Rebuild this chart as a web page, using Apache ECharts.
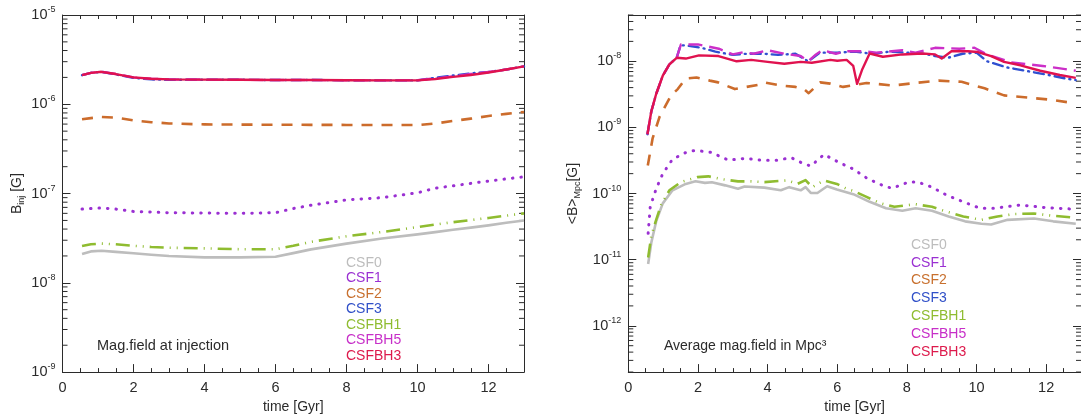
<!DOCTYPE html>
<html>
<head>
<meta charset="utf-8">
<script src="https://cdn.jsdelivr.net/npm/echarts@6.0.0/dist/echarts.min.js"></script>
<style>
  html, body { margin: 0; padding: 0; background: #fff; }
  #chart { width: 1081px; height: 419px; }
</style>
</head>
<body>
<div id="chart"></div>
<script>
// === Data: left panel (field at injection), shared time grid =================
const tInj = [0.55, 0.8, 1.1, 1.5, 2, 2.5, 3, 4, 5, 6, 6.5, 7, 8, 9, 10, 10.5, 11, 11.5, 12, 12.5, 13];
const injCSF0   = [2.1e-8, 2.25e-8, 2.29e-8, 2.22e-8, 2.14e-8, 2.06e-8, 2.0e-8, 1.93e-8, 1.93e-8, 1.96e-8, 2.15e-8, 2.37e-8, 2.75e-8, 3.13e-8, 3.49e-8, 3.7e-8, 3.93e-8, 4.15e-8, 4.4e-8, 4.7e-8, 4.99e-8];
const injCSF1   = [6.7e-8, 6.8e-8, 6.9e-8, 6.7e-8, 6.3e-8, 6.2e-8, 6.1e-8, 6.05e-8, 6.0e-8, 6.1e-8, 6.8e-8, 7.4e-8, 8.5e-8, 9.0e-8, 1.02e-7, 1.15e-7, 1.22e-7, 1.3e-7, 1.38e-7, 1.46e-7, 1.54e-7];
const injCSF2   = [6.8e-7, 7.0e-7, 7.2e-7, 7.1e-7, 6.6e-7, 6.3e-7, 6.1e-7, 5.95e-7, 5.92e-7, 5.9e-7, 5.9e-7, 5.88e-7, 5.87e-7, 5.85e-7, 5.85e-7, 6.1e-7, 6.5e-7, 6.9e-7, 7.4e-7, 7.8e-7, 8.2e-7];
const injCSF3   = [2.12e-6, 2.25e-6, 2.31e-6, 2.16e-6, 1.98e-6, 1.9e-6, 1.88e-6, 1.88e-6, 1.88e-6, 1.87e-6, 1.87e-6, 1.87e-6, 1.86e-6, 1.85e-6, 1.85e-6, 1.98e-6, 2.1e-6, 2.22e-6, 2.3e-6, 2.45e-6, 2.66e-6];
const injCSFBH1 = [2.58e-8, 2.7e-8, 2.75e-8, 2.7e-8, 2.6e-8, 2.52e-8, 2.47e-8, 2.43e-8, 2.38e-8, 2.38e-8, 2.6e-8, 2.88e-8, 3.32e-8, 3.71e-8, 4.21e-8, 4.5e-8, 4.78e-8, 5.05e-8, 5.33e-8, 5.65e-8, 6.0e-8];
const injCSFBH5 = [2.12e-6, 2.25e-6, 2.31e-6, 2.18e-6, 2.0e-6, 1.93e-6, 1.9e-6, 1.89e-6, 1.88e-6, 1.87e-6, 1.87e-6, 1.87e-6, 1.86e-6, 1.85e-6, 1.86e-6, 1.95e-6, 2.05e-6, 2.18e-6, 2.3e-6, 2.45e-6, 2.66e-6];
const injCSFBH3 = [2.12e-6, 2.25e-6, 2.31e-6, 2.18e-6, 2.0e-6, 1.93e-6, 1.9e-6, 1.89e-6, 1.88e-6, 1.87e-6, 1.87e-6, 1.87e-6, 1.86e-6, 1.85e-6, 1.85e-6, 1.92e-6, 2.03e-6, 2.13e-6, 2.27e-6, 2.45e-6, 2.66e-6];

// === Data: right panel (average field in Mpc^3), [time, B] pairs ============
const mpcCSF0 = [[0.57,8.6e-12],[0.66,1.8e-11],[0.8,3.8e-11],[0.99,7.1e-11],[1.27,1.12e-10],[1.65,1.4e-10],[1.93,1.53e-10],[2.2,1.45e-10],[2.4,1.48e-10],[2.78,1.33e-10],[3.15,1.18e-10],[3.34,1.28e-10],[3.91,1.23e-10],[4.38,1.12e-10],[4.62,1.25e-10],[4.95,1.12e-10],[5.09,1.25e-10],[5.24,1.02e-10],[5.43,1.02e-10],[5.71,1.29e-10],[5.99,1.15e-10],[6.46,9.8e-11],[6.93,7.5e-11],[7.4,6.0e-11],[7.87,5.5e-11],[8.25,6.0e-11],[8.72,5.5e-11],[9.2,4.5e-11],[9.67,3.8e-11],[10.14,3.5e-11],[10.42,3.4e-11],[10.89,4.0e-11],[11.65,4.2e-11],[12.2,3.8e-11],[12.85,3.5e-11]];
const mpcCSF1 = [[0.57,2.5e-11],[0.63,6.3e-11],[0.8,1.18e-10],[0.99,2.0e-10],[1.27,3.3e-10],[1.7,4.3e-10],[1.93,4.5e-10],[2.37,4.2e-10],[2.88,3.2e-10],[3.35,3.4e-10],[3.82,3.2e-10],[4.3,3.2e-10],[4.67,3.5e-10],[4.96,2.95e-10],[5.24,2.6e-10],[5.62,3.9e-10],[6.05,2.95e-10],[6.46,2.35e-10],[6.88,1.67e-10],[7.3,1.33e-10],[7.57,1.2e-10],[8.06,1.5e-10],[8.3,1.5e-10],[8.72,1.25e-10],[9.15,9.4e-11],[9.62,7.5e-11],[10.1,6.0e-11],[10.57,6.0e-11],[10.8,6.3e-11],[11.27,6.7e-11],[12.02,6.1e-11],[12.85,5.8e-11]];
const mpcCSF2 = [[0.56,2.66e-10],[0.7,6.9e-10],[0.9,1.46e-9],[1.23,3.05e-9],[1.42,3.8e-9],[1.65,5.5e-9],[1.96,5.7e-9],[2.34,5.1e-9],[2.58,4.8e-9],[3.06,3.8e-9],[3.4,4.1e-9],[3.72,4.4e-9],[3.91,4.8e-9],[4.38,4.3e-9],[4.8,4.1e-9],[5.04,3.8e-9],[5.18,3.3e-9],[5.51,4.8e-9],[5.8,4.6e-9],[6.17,4.1e-9],[6.84,4.7e-9],[7.6,4.3e-9],[8.25,4.7e-9],[8.91,5.1e-9],[9.57,4.9e-9],[10.23,3.9e-9],[10.79,3.05e-9],[11.55,2.8e-9],[12.2,2.6e-9],[12.85,2.3e-9]];
const mpcCSF3 = [[0.55,7.9e-10],[0.66,1.74e-9],[0.8,3.2e-9],[0.99,6.05e-9],[1.18,9.0e-9],[1.39,1.13e-8],[1.5,1.75e-8],[1.67,1.73e-8],[2.1,1.6e-8],[2.5,1.4e-8],[3.0,1.25e-8],[3.4,1.3e-8],[3.9,1.3e-8],[4.3,1.25e-8],[4.8,1.3e-8],[5.17,1.0e-8],[5.5,1.35e-8],[6.0,1.35e-8],[6.5,1.4e-8],[7.0,1.3e-8],[7.5,1.4e-8],[8.0,1.35e-8],[8.5,1.3e-8],[8.81,1.2e-8],[9.18,1.13e-8],[9.6,1.3e-8],[10.0,1.35e-8],[10.3,1.0e-8],[10.89,8.05e-9],[11.4,7.2e-9],[12.0,6.3e-9],[12.55,5.5e-9],[12.85,5.2e-9]];
const mpcCSFBH1 = [[0.57,1.08e-11],[0.66,2.26e-11],[0.8,4.0e-11],[0.94,6.7e-11],[1.18,1.12e-10],[1.51,1.49e-10],[1.98,1.77e-10],[2.3,1.82e-10],[2.68,1.65e-10],[3.15,1.53e-10],[3.53,1.53e-10],[3.91,1.49e-10],[4.57,1.58e-10],[4.86,1.4e-10],[5.09,1.6e-10],[5.28,1.25e-10],[5.62,1.58e-10],[5.99,1.4e-10],[6.27,1.18e-10],[6.46,1.1e-10],[6.84,8.9e-11],[7.22,7.2e-11],[7.64,6.3e-11],[7.93,6.6e-11],[8.25,6.9e-11],[8.72,6.3e-11],[9.15,5.3e-11],[9.62,4.5e-11],[10.14,4.0e-11],[10.6,4.5e-11],[11.08,4.9e-11],[11.65,5.0e-11],[12.12,4.65e-11],[12.85,4.3e-11]];
const mpcCSFBH5 = [[0.55,7.9e-10],[0.66,1.74e-9],[0.8,3.2e-9],[0.99,6.05e-9],[1.18,9.0e-9],[1.39,1.13e-8],[1.51,1.79e-8],[2.0,1.8e-8],[2.6,1.55e-8],[3.0,1.27e-8],[3.3,1.37e-8],[3.6,1.3e-8],[4.0,1.47e-8],[4.48,1.3e-8],[4.95,1.2e-8],[5.17,1.0e-8],[5.39,1.27e-8],[5.57,1.47e-8],[5.96,1.3e-8],[6.27,1.42e-8],[6.74,1.42e-8],[7.12,1.35e-8],[7.87,1.47e-8],[8.25,1.35e-8],[8.81,1.6e-8],[9.5,1.55e-8],[9.94,1.6e-8],[10.3,1.27e-8],[11.0,9.6e-9],[11.9,8.5e-9],[12.4,7.8e-9],[12.85,7.2e-9]];
const mpcCSFBH3 = [[0.55,7.9e-10],[0.66,1.74e-9],[0.8,3.2e-9],[0.99,6.05e-9],[1.18,9.0e-9],[1.39,1.13e-8],[1.65,1.1e-8],[2.03,1.23e-8],[2.59,1.2e-8],[3.11,1.0e-8],[3.53,1.05e-8],[4.0,9.8e-9],[4.48,9.2e-9],[4.95,9.8e-9],[5.27,9.5e-9],[5.8,1.05e-8],[6.0,1.02e-8],[6.27,1.05e-8],[6.46,8.5e-9],[6.57,4.55e-9],[6.72,7.6e-9],[6.93,1.31e-8],[7.31,1.17e-8],[7.87,1.27e-8],[8.44,1.31e-8],[8.81,1.27e-8],[9.0,1.1e-8],[9.28,1.42e-8],[9.75,1.42e-8],[10.04,1.38e-8],[10.42,1.2e-8],[10.79,9.8e-9],[11.26,8.7e-9],[11.83,7.2e-9],[12.39,6.2e-9],[12.85,5.6e-9]];

const NAMES = ['CSF0', 'CSF1', 'CSF2', 'CSF3', 'CSFBH1', 'CSFBH5', 'CSFBH3'];
const injByName = { CSF0: injCSF0, CSF1: injCSF1, CSF2: injCSF2, CSF3: injCSF3, CSFBH1: injCSFBH1, CSFBH5: injCSFBH5, CSFBH3: injCSFBH3 };
const mpcByName = { CSF0: mpcCSF0, CSF1: mpcCSF1, CSF2: mpcCSF2, CSF3: mpcCSF3, CSFBH1: mpcCSFBH1, CSFBH5: mpcCSFBH5, CSFBH3: mpcCSFBH3 };

// log10 ranges of the two y axes
const injRange = [-9, -5];
const mpcRange = [-12.7, -7.3];

// === Styles ==================================================================
const FONT = '"Liberation Sans", Arial, Helvetica, sans-serif';
const ink = '#2b2b2b';
const STYLE = {
  CSF0:   { color: '#bdbdbd', width: 2.6, type: 'solid' },
  CSF1:   { color: '#9a30d2', width: 3, type: [0.5, 8], cap: 'round' },
  CSF2:   { color: '#cc6c2c', width: 2.6, type: [11, 9] },
  CSF3:   { color: '#2f4fd0', width: 2.4, type: [10, 5, 1, 5], cap: 'round' },
  CSFBH1: { color: '#8fbc30', width: 2.6, type: [14, 6, 1, 6, 1, 6], cap: 'butt' },
  CSFBH5: { color: '#cc2fc8', width: 2.4, type: [14, 7] },
  CSFBH3: { color: '#e0124f', width: 2.4, type: 'solid' }
};
const LEGEND_COLOR = { CSF0: '#bdbdbd', CSF1: '#9a30d2', CSF2: '#c8702e', CSF3: '#3050c8', CSFBH1: '#8fbc30', CSFBH5: '#c72fc8', CSFBH3: '#dd1a4c' };

const supLabel = {
  color: ink, fontFamily: FONT, margin: 7,
  rich: {
    b: { fontSize: 14.5, lineHeight: 20, fontFamily: FONT, color: ink },
    s: { fontSize: 9, lineHeight: 9, verticalAlign: 'top', fontFamily: FONT, color: ink }
  }
};
const isInt = v => Math.abs(v - Math.round(v)) < 1e-6;

// === Axes ====================================================================
function xAxes(grid) {
  const base = { type: 'value', gridIndex: grid, min: 0, max: 13, axisLine: { show: false, onZero: false }, splitLine: { show: false }, axisLabel: { show: false } };
  return [
    { ...base, position: 'bottom', interval: 2,
      axisLine: { show: true, onZero: false, lineStyle: { color: ink, width: 1 } },
      axisTick: { inside: true, length: 8, lineStyle: { color: ink } },
      axisLabel: { show: true, showMaxLabel: false, color: ink, fontSize: 14.5, fontFamily: FONT, margin: 8 },
      name: 'time [Gyr]', nameLocation: 'middle', nameGap: 23,
      nameTextStyle: { color: ink, fontSize: 14, fontFamily: FONT } },
    { ...base, position: 'bottom', interval: 0.5, axisTick: { inside: true, length: 4, lineStyle: { color: ink } } },
    { ...base, position: 'top', interval: 2,
      axisLine: { show: true, onZero: false, lineStyle: { color: ink, width: 1 } },
      axisTick: { inside: true, length: 8, lineStyle: { color: ink } } },
    { ...base, position: 'top', interval: 0.5, axisTick: { inside: true, length: 4, lineStyle: { color: ink } } }
  ];
}

function yAxes(grid, range, name, nameGap, opts) {
  const common = { type: 'value', gridIndex: grid, min: range[0], max: range[1], splitLine: { show: false },
    axisLine: { show: true, onZero: false, lineStyle: { color: ink, width: 1 } },
    axisTick: { inside: true, length: 8, lineStyle: { color: ink } }, ...opts };
  return [
    { ...common, position: 'left',
      axisLabel: { ...supLabel, showMinLabel: isInt(range[0]), showMaxLabel: isInt(range[1]),
        formatter: v => isInt(v) ? `{b|10}{s|${Math.round(v)}}` : '' },
      name, nameLocation: 'middle', nameRotate: 90, nameGap,
      nameTextStyle: { color: ink, fontFamily: FONT, rich: {
        a: { fontSize: 14, lineHeight: 18, fontFamily: FONT, color: ink },
        s: { fontSize: 9, lineHeight: 9, verticalAlign: 'bottom', fontFamily: FONT, color: ink } } } },
    { ...common, position: 'right', axisLabel: { show: false } }
  ];
}

// Logarithmic minor ticks (2..9 x 10^n) on both vertical edges, placed through the axis scale
function minorLogTicks(range) {
  const out = [];
  for (let n = Math.floor(range[0]); n < Math.ceil(range[1]); n++) {
    for (let k = 2; k <= 9; k++) {
      const v = n + Math.log10(k);
      if (v > range[0] && v < range[1]) out.push([0, v]);
    }
  }
  return out;
}
function minorTickSeries(xIdx, yIdx, range) {
  return {
    type: 'custom', xAxisIndex: xIdx, yAxisIndex: yIdx, silent: true, z: 1, clip: false,
    data: minorLogTicks(range),
    renderItem: (params, api) => {
      const v = api.value(1);
      const a = api.coord([0, v]);
      const b = api.coord([13, v]);
      const st = { stroke: ink, lineWidth: 1 };
      return { type: 'group', children: [
        { type: 'line', shape: { x1: a[0], y1: a[1], x2: a[0] + 5, y2: a[1] }, style: st },
        { type: 'line', shape: { x1: b[0], y1: b[1], x2: b[0] - 5, y2: b[1] }, style: st }
      ] };
    }
  };
}

// === Series ==================================================================
function lineSeries(name, xIdx, yIdx, data) {
  const s = STYLE[name];
  return {
    name, type: 'line', xAxisIndex: xIdx, yAxisIndex: yIdx, showSymbol: false, symbol: 'none',
    smooth: false, z: 3, data,
    itemStyle: { color: s.color },
    lineStyle: { color: s.color, width: s.width, type: s.type, cap: s.cap || 'butt', join: 'round' }
  };
}

const series = [];
NAMES.forEach(n => {
  series.push(lineSeries(n, 0, 0, tInj.map((t, i) => [t, Math.log10(injByName[n][i])])));
});
NAMES.forEach(n => {
  series.push(lineSeries(n, 4, 2, mpcByName[n].map(p => [p[0], Math.log10(p[1])])));
});
series.push(minorTickSeries(0, 0, injRange));
series.push(minorTickSeries(4, 2, mpcRange));

const legendData = NAMES.map(n => ({ name: n, textStyle: { color: LEGEND_COLOR[n] } }));
const legendBase = { orient: 'vertical', itemWidth: 0, itemHeight: 0, padding: 0, selectedMode: false,
  textStyle: { fontSize: 14, fontFamily: FONT }, data: legendData };

const option = {
  animation: false,
  backgroundColor: '#fff',
  grid: [
    { left: 62.5, top: 15, width: 461.5, height: 362 },
    { left: 628.3, top: 15, width: 460, height: 362 }
  ],
  xAxis: [...xAxes(0), ...xAxes(1)],
  yAxis: [
    ...yAxes(0, injRange, '{a|B}{s|inj}{a| [G]}', 36, { interval: 1 }),
    ...yAxes(1, mpcRange, '{a|<B>}{s|Mpc}{a|[G]}', 46, { splitNumber: 5 })
  ],
  legend: [
    { ...legendBase, left: 340, top: 256, itemGap: 1.5 },
    { ...legendBase, left: 905, top: 238, itemGap: 3.8 }
  ],
  graphic: [
    { type: 'text', left: 97, top: 338, style: { text: 'Mag.field at injection', font: '14.5px ' + FONT, fill: ink } },
    { type: 'text', left: 664, top: 339, style: { text: 'Average mag.field in Mpc³', font: '14px ' + FONT, fill: ink } }
  ],
  series
};

const chart = echarts.init(document.getElementById('chart'), null, { renderer: 'canvas' });
chart.setOption(option);
</script>
</body>
</html>
